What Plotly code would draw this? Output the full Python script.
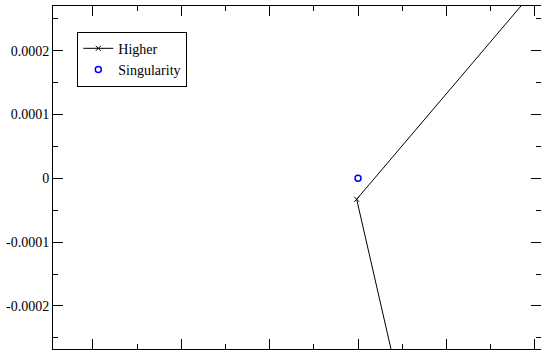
import plotly.graph_objects as go

# Data
higher_x = [2.478e-4, -1.5e-6, 5.57e-5]
higher_y = [3.736e-4, -3.28e-5, -3.788e-4]
sing_x = [0.0]
sing_y = [0.0]

y_tickvals = [0.0002, 0.0001, 0.0, -0.0001, -0.0002]
y_ticktext = ["0.0002", "0.0001", "0", "-0.0001", "-0.0002"]

x_range = [-3.4502e-4, 2.0701e-4]
y_range = [-2.6748e-4, 2.7014e-4]

FONT = "'Times New Roman', 'Liberation Serif', 'DejaVu Serif', serif"

fig = go.Figure()
fig.add_trace(go.Scatter(
    x=higher_x, y=higher_y, mode="lines+markers", name="Higher",
    line=dict(color="black", width=1),
    marker=dict(symbol="x-thin", size=5, line=dict(color="black", width=1), color="black"),
))
fig.add_trace(go.Scatter(
    x=sing_x, y=sing_y, mode="markers", name="Singularity",
    marker=dict(symbol="circle-open", size=6, color="blue", line=dict(color="blue", width=1.5)),
))

fig.update_layout(
    width=541, height=350,
    margin=dict(l=53, r=0, t=6, b=1, pad=0),
    paper_bgcolor="white", plot_bgcolor="white",
    font=dict(family=FONT, size=14, color="black"),
    showlegend=True,
    legend=dict(
        x=0.0498, y=0.925, xanchor="left", yanchor="top",
        bgcolor="white", bordercolor="black", borderwidth=1,
        font=dict(family=FONT, size=14, color="black"),
        tracegroupgap=0, itemwidth=30,
    ),
    xaxis=dict(
        range=x_range, showgrid=False, zeroline=False,
        showline=True, linecolor="black", linewidth=1, mirror="ticks",
        ticks="inside", ticklen=10, tickwidth=1, tickcolor="black",
        tick0=0, dtick=0.0001, showticklabels=False,
        minor=dict(ticks="inside", ticklen=5, tickwidth=1, tickcolor="black", dtick=0.00005, tick0=0, showgrid=False),
    ),
    yaxis=dict(
        range=y_range, showgrid=False, zeroline=False,
        showline=True, linecolor="black", linewidth=1, mirror="ticks",
        ticks="inside", ticklen=10, tickwidth=1, tickcolor="black",
        tickmode="array", tickvals=y_tickvals, ticktext=y_ticktext,
        tickfont=dict(family=FONT, size=14, color="black"),
        minor=dict(ticks="inside", ticklen=5, tickwidth=1, tickcolor="black", dtick=0.00005, tick0=0, showgrid=False),
    ),
)

fig.write_html("out.html")
